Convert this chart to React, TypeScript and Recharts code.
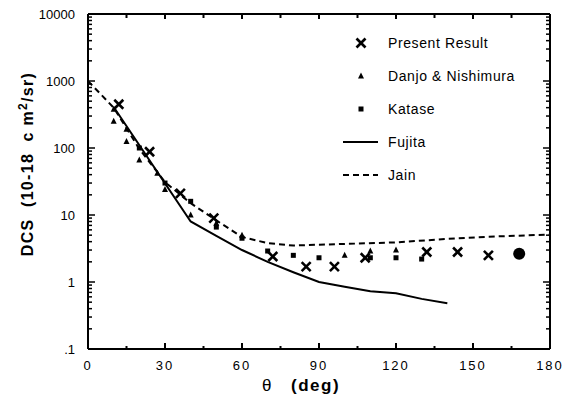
import React from "react";
import { ComposedChart, Line, Scatter, XAxis, YAxis, Legend } from "recharts";

// scattering angle ticks (deg)
const xTicks = [0, 15, 30, 45, 60, 75, 90, 105, 120, 135, 150, 165, 180];
const xLabels = [0, 30, 60, 90, 120, 150, 180];

// log axis decades and their printed labels
const yMajor = [0.1, 1, 10, 100, 1000, 10000];
const yLabels = [".1", "1", "10", "100", "1000", "10000"];
const yTicks = yMajor.flatMap((m, i) =>
  i < yMajor.length - 1 ? [1, 2, 3, 4, 5, 6, 7, 8, 9].map((k) => m * k) : [m]
);

// Present Result (crosses)
const presentTheta = [12, 24, 36, 49, 72, 85, 96, 108, 132, 144, 156];
const presentDcs = [450, 88, 21, 9, 2.4, 1.7, 1.7, 2.3, 2.8, 2.8, 2.5];

// Danjo & Nishimura (triangles)
const danjoTheta = [10, 10, 15, 15, 20, 27, 30, 40, 50, 60, 100, 110, 120];
const danjoDcs = [380, 250, 190, 125, 66, 42, 24, 10, 7.5, 5, 2.5, 2.9, 3.0];

// Katase (squares)
const kataseTheta = [20, 30, 40, 50, 60, 70, 80, 90, 110, 120, 130];
const kataseDcs = [100, 30, 16, 6.6, 4.5, 2.9, 2.5, 2.3, 2.3, 2.3, 2.2];

// overlapping points at the last angle (drawn as a blob)
const blobTheta = [168];
const blobDcs = [2.65];

// Fujita (solid)
const fujitaTheta = [10, 40, 50, 60, 70, 80, 90, 100, 110, 120, 130, 140];
const fujitaDcs = [410, 8, 4.9, 3.0, 2.0, 1.4, 1.0, 0.85, 0.73, 0.68, 0.56, 0.48];

// Jain (dashed)
const jainTheta = [0, 10, 20, 30, 40, 50, 60, 70, 80, 90, 100, 120, 140, 160, 180];
const jainDcs = [1000, 400, 97, 31, 15, 8.3, 4.7, 3.8, 3.5, 3.6, 3.7, 3.9, 4.4, 4.8, 5.1];

const pts = (t: number[], d: number[]) => t.map((theta, i) => ({ theta, dcs: d[i] }));

const FONT = "'Liberation Sans', Arial, Helvetica, sans-serif";

const isMajorY = (v: number) => yMajor.some((m) => Math.abs(m - v) < m * 1e-6);

const BottomTick = (props: any) => {
  const { x, y, payload } = props;
  const v = payload.value;
  const major = v % 30 === 0;
  return (
    <g>
      {v > 0 && v < 180 && (
        <line x1={x} y1={y} x2={x} y2={y - (major ? 6 : 3)} stroke="#000" strokeWidth={2} />
      )}
      {xLabels.includes(v) && (
        <text x={x} y={y + 21} textAnchor="middle" fontSize={13} fontFamily={FONT} letterSpacing={2} fill="#000">
          {v}
        </text>
      )}
    </g>
  );
};

const TopTick = (props: any) => {
  const { x, y, payload } = props;
  const v = payload.value;
  if (v <= 0 || v >= 180) return <g />;
  return <line x1={x} y1={y} x2={x} y2={y + (v % 30 === 0 ? 5 : 4)} stroke="#000" strokeWidth={2} />;
};

const LeftTick = (props: any) => {
  const { x, y, payload } = props;
  const v = payload.value;
  const major = isMajorY(v);
  const idx = yMajor.findIndex((m) => Math.abs(m - v) < m * 1e-6);
  return (
    <g>
      {v > 0.1001 && v < 9999 && (
        <line x1={x} y1={y} x2={x + (major ? 7 : 4)} y2={y} stroke="#000" strokeWidth={1.5} />
      )}
      {idx >= 0 && (
        <text x={x - 13} y={y + 4.5} textAnchor="end" fontSize={13} fontFamily={FONT} fill="#000">
          {yLabels[idx]}
        </text>
      )}
    </g>
  );
};

const RightTick = (props: any) => {
  const { x, y, payload } = props;
  const v = payload.value;
  if (v <= 0.1001 || v >= 9999) return <g />;
  return <line x1={x} y1={y} x2={x - (isMajorY(v) ? 7 : 4)} y2={y} stroke="#000" strokeWidth={1.5} />;
};

const XMark = (props: any) => {
  const { cx, cy } = props;
  const s = 4.5;
  return (
    <g stroke="#000" strokeWidth={2.6}>
      <line x1={cx - s} y1={cy - s} x2={cx + s} y2={cy + s} />
      <line x1={cx - s} y1={cy + s} x2={cx + s} y2={cy - s} />
    </g>
  );
};

const Tri = (props: any) => {
  const { cx, cy } = props;
  return <path d={`M${cx},${cy - 3.5} L${cx + 3},${cy + 2.5} L${cx - 3},${cy + 2.5} Z`} fill="#000" />;
};

const Sq = (props: any) => {
  const { cx, cy } = props;
  return <rect x={cx - 2.5} y={cy - 2.5} width={5} height={5} fill="#000" />;
};

const Blob = (props: any) => {
  const { cx, cy } = props;
  return <circle cx={cx} cy={cy} r={6} fill="#000" />;
};

const legendRows = [
  { name: "Present Result", kind: "x" },
  { name: "Danjo & Nishimura", kind: "tri" },
  { name: "Katase", kind: "sq" },
  { name: "Fujita", kind: "solid" },
  { name: "Jain", kind: "dash" },
];

const LegendBox = () => (
  <div style={{ fontFamily: FONT, fontSize: 14, letterSpacing: 0.6, color: "#000" }}>
    {legendRows.map((r) => (
      <div key={r.name} style={{ display: "flex", alignItems: "center", height: 33 }}>
        <svg width={36} height={14} style={{ display: "block" }}>
          {r.kind === "x" && <XMark cx={18} cy={7} />}
          {r.kind === "tri" && <Tri cx={18} cy={7} />}
          {r.kind === "sq" && <Sq cx={18} cy={7} />}
          {r.kind === "solid" && <line x1={0} y1={7} x2={35} y2={7} stroke="#000" strokeWidth={2} />}
          {r.kind === "dash" && (
            <line x1={0} y1={7} x2={35} y2={7} stroke="#000" strokeWidth={2} strokeDasharray="6 4" />
          )}
        </svg>
        <span style={{ marginLeft: 9, whiteSpace: "nowrap" }}>{r.name}</span>
      </div>
    ))}
  </div>
);

const xAxisLabel = () => (
  <text x={254} y={383} fontFamily={FONT} fill="#000">
    <tspan fontSize={17}>θ</tspan>
    <tspan x={283} fontSize={17} fontWeight="bold" letterSpacing={1.5}>
      (deg)
    </tspan>
  </text>
);

const yAxisLabel = () => (
  <text
    x={25}
    y={156}
    transform="rotate(-90 25 156)"
    textAnchor="middle"
    fontFamily={FONT}
    fontWeight="bold"
    fontSize={16}
    letterSpacing={1.3}
    fill="#000"
  >
    {"DCS\u00a0\u00a0(10-18\u00a0\u00a0c\u00a0m"}
    <tspan dy={-6} fontSize={12}>2</tspan>
    <tspan dy={6}>/sr)</tspan>
  </text>
);

export default function App() {
  return (
    <ComposedChart
      width={565}
      height={390}
      margin={{ top: 5, right: 22, bottom: 48, left: 79 }}
      style={{ background: "#fff" }}
    >
      <XAxis
        xAxisId="bottom"
        dataKey="theta"
        type="number"
        domain={[0, 180]}
        ticks={xTicks}
        allowDataOverflow
        height={1}
        tickSize={0}
        tickMargin={0}
        axisLine={{ stroke: "#000", strokeWidth: 2 }}
        tickLine={false}
        tick={BottomTick}
        interval={0}
        label={xAxisLabel}
      />
      <XAxis
        xAxisId="top"
        orientation="top"
        dataKey="theta"
        type="number"
        domain={[0, 180]}
        ticks={xTicks}
        allowDataOverflow
        height={1}
        tickSize={0}
        tickMargin={0}
        axisLine={{ stroke: "#000", strokeWidth: 2 }}
        tickLine={false}
        tick={TopTick}
        interval={0}
      />
      <YAxis
        yAxisId="left"
        dataKey="dcs"
        type="number"
        scale="log"
        domain={[0.1, 10000]}
        ticks={yTicks}
        allowDataOverflow
        width={1}
        tickSize={0}
        tickMargin={0}
        axisLine={{ stroke: "#000", strokeWidth: 2 }}
        tickLine={false}
        tick={LeftTick}
        interval={0}
        label={yAxisLabel}
      />
      <YAxis
        yAxisId="right"
        orientation="right"
        dataKey="dcs"
        type="number"
        scale="log"
        domain={[0.1, 10000]}
        ticks={yTicks}
        allowDataOverflow
        width={1}
        tickSize={0}
        tickMargin={0}
        axisLine={{ stroke: "#000", strokeWidth: 2 }}
        tickLine={false}
        tick={RightTick}
        interval={0}
      />
      <Line
        xAxisId="bottom"
        yAxisId="left"
        data={pts(jainTheta, jainDcs)}
        dataKey="dcs"
        type="linear"
        stroke="#000"
        strokeWidth={2}
        strokeDasharray="6 4"
        dot={false}
        isAnimationActive={false}
      />
      <Line
        xAxisId="bottom"
        yAxisId="left"
        data={pts(fujitaTheta, fujitaDcs)}
        dataKey="dcs"
        type="linear"
        stroke="#000"
        strokeWidth={2}
        dot={false}
        isAnimationActive={false}
      />
      <Scatter xAxisId="bottom" yAxisId="left" data={pts(danjoTheta, danjoDcs)} dataKey="dcs" shape={Tri} isAnimationActive={false} />
      <Scatter xAxisId="bottom" yAxisId="left" data={pts(kataseTheta, kataseDcs)} dataKey="dcs" shape={Sq} isAnimationActive={false} />
      <Scatter xAxisId="bottom" yAxisId="left" data={pts(presentTheta, presentDcs)} dataKey="dcs" shape={XMark} isAnimationActive={false} />
      <Scatter xAxisId="bottom" yAxisId="left" data={pts(blobTheta, blobDcs)} dataKey="dcs" shape={Blob} isAnimationActive={false} />
      <Legend
        layout="horizontal"
        align="center"
        verticalAlign="middle"
        content={LegendBox}
        wrapperStyle={{ left: 335, top: 18, width: 230, height: 165 }}
      />
    </ComposedChart>
  );
}
